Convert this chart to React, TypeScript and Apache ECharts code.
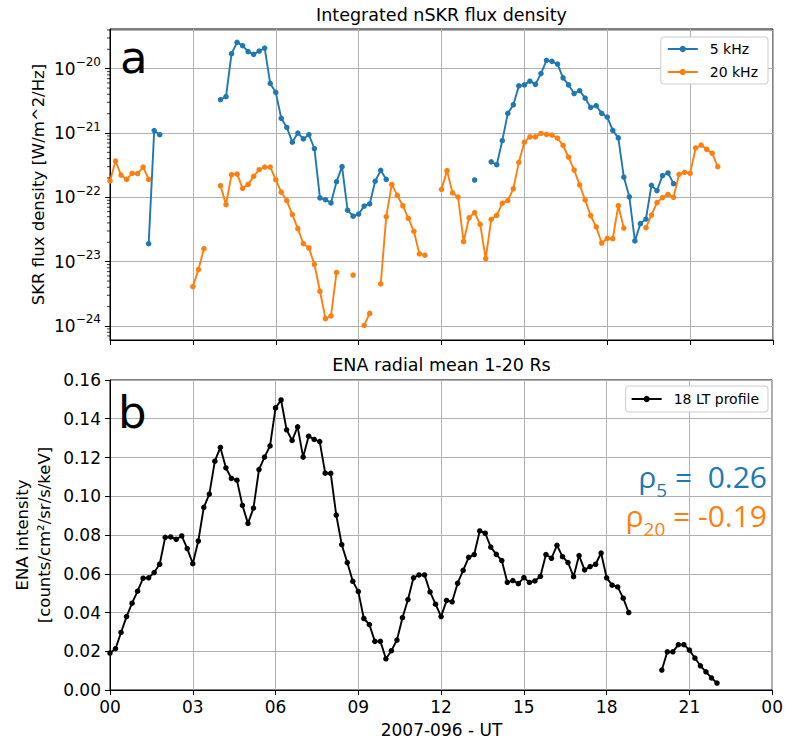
import { useEffect, useRef } from 'react';
import * as echarts from 'echarts';

// ---- data (12-minute cadence, hours UT on 2007-096) ----
const STEP_H = 0.2;
const HOUR_LABELS = ['00', '03', '06', '09', '12', '15', '18', '21', '00'];

// [segment start hour, values]
const skr5kHz: [number, number[]][] = [
  [1.4, [1.9e-23, 1.09e-21, 9.4e-22]],
  [4.0, [3.3e-21, 3.67e-21, 1.71e-20, 2.57e-20, 2.28e-20, 1.84e-20, 1.67e-20, 1.88e-20, 2.09e-20, 5.9e-21,
    4.3e-21, 1.69e-21, 1.22e-21, 7.2e-22, 1.0e-21, 8.1e-22, 9.4e-22, 5.7e-22, 9.8e-23, 9.2e-23,
    8.2e-23, 1.75e-22, 3.0e-22, 6.3e-23, 5.1e-23, 5.5e-23, 7.3e-23, 7.9e-23, 1.78e-22, 2.63e-22, 1.9e-22]],
  [13.2, [1.86e-22]],
  [13.8, [3.56e-22, 3.22e-22, 7.6e-22, 2.02e-21, 2.75e-21, 5.4e-21, 5.6e-21, 6.4e-21, 5.7e-21, 8.4e-21, 1.35e-20,
    1.3e-20, 1.18e-20, 7.2e-21, 5.6e-21, 4.1e-21, 4.55e-21, 3.5e-21, 2.5e-21, 2.66e-21, 2.02e-21, 1.77e-21,
    1.1e-21, 8.4e-22, 2.07e-22, 1.02e-22, 2.1e-23, 3.9e-23, 4.6e-23, 1.54e-22, 1.27e-22, 2.17e-22, 2.39e-22, 1.63e-22]],
];

const skr20kHz: [number, number[]][] = [
  [0.0, [1.8e-22, 3.67e-22, 2.22e-22, 1.9e-22, 2.36e-22, 2.33e-22, 2.96e-22, 1.9e-22]],
  [3.0, [4.1e-24, 7.5e-24, 1.59e-23]],
  [4.0, [1.52e-22, 7.7e-23, 2.25e-22, 2.3e-22, 1.38e-22, 1.59e-22, 2.12e-22, 2.69e-22, 2.96e-22, 2.96e-22,
    1.88e-22, 1.2e-22, 8.9e-23, 5.4e-23, 3.26e-23, 1.9e-23, 1.63e-23, 9.1e-24, 3.46e-24, 1.3e-24, 1.43e-24, 6.8e-24]],
  [8.8, [6.2e-24]],
  [9.2, [1.02e-24, 1.57e-24]],
  [9.8, [4.5e-24, 5.0e-23, 1.59e-22, 1.07e-22, 7.4e-23, 4.7e-23, 2.96e-23, 1.32e-23, 1.26e-23]],
  [12.0, [1.33e-22, 2.6e-22, 1.17e-22, 1.01e-22, 2.05e-23, 4.8e-23, 5.8e-23, 3.8e-23, 1.11e-23, 4.55e-23,
    5.25e-23, 8.1e-23, 8.9e-23, 1.36e-22, 3.5e-22, 7.2e-22, 8.7e-22, 8.7e-22, 9.9e-22, 9.5e-22,
    9.3e-22, 8.3e-22, 6.4e-22, 4.2e-22, 2.66e-22, 1.56e-22, 9.1e-23, 5.2e-23, 3.46e-23, 1.95e-23,
    2.3e-23, 2.28e-23, 7.4e-23, 3.33e-23]],
  [19.4, [3.37e-23, 5.3e-23, 8.3e-23, 9.9e-23, 1.11e-22, 1.0e-22, 2.28e-22, 2.45e-22, 2.36e-22, 5.85e-22,
    6.5e-22, 5.57e-22, 4.83e-22, 3.0e-22]],
];

const ena18LT: [number, number[]][] = [
  [0.0, [0.0191, 0.0213, 0.0297, 0.0379, 0.0448, 0.0510, 0.0577, 0.0579, 0.0606, 0.0649,
    0.0788, 0.0790, 0.0778, 0.0795, 0.0730, 0.0652, 0.0769, 0.0943, 0.1011, 0.1181,
    0.1252, 0.1147, 0.1092, 0.1083, 0.0953, 0.0860, 0.0939, 0.1138, 0.1202, 0.1260,
    0.1456, 0.1497, 0.1343, 0.1288, 0.1358, 0.1202, 0.1310, 0.1293, 0.1282, 0.1119,
    0.1118, 0.0903, 0.0750, 0.0658, 0.0561, 0.0508, 0.0369, 0.0338, 0.0251, 0.0251,
    0.0161, 0.0203, 0.0258, 0.0373, 0.0467, 0.0579, 0.0594, 0.0594, 0.0506, 0.0443,
    0.0379, 0.0462, 0.0455, 0.0551, 0.0618, 0.0685, 0.0699, 0.0821, 0.0809, 0.0738,
    0.0700, 0.0668, 0.0556, 0.0565, 0.0549, 0.0580, 0.0555, 0.0563, 0.0587, 0.0699,
    0.0680, 0.0747, 0.0688, 0.0658, 0.0585, 0.0694, 0.0620, 0.0637, 0.0649, 0.0707,
    0.0579, 0.0541, 0.0532, 0.0474, 0.0400]],
  [20.0, [0.0103, 0.0197, 0.0197, 0.0234, 0.0234, 0.0206, 0.0165, 0.0125, 0.0094, 0.0062, 0.0036]],
];

const RHO_5 = ' 0.26';
const RHO_20 = '-0.19';

// ---- styles ----
const FONT = '"DejaVu Sans", sans-serif';
const FONT_RHO = '"Open Sans", sans-serif';
const BLUE = '#1f77b4';
const ORANGE = '#ff7f0e';
const GRID_COLOR = '#b0b0b0';
const LOG_MIN = Math.pow(10, -24.218);
const LOG_MAX = Math.pow(10, -19.383);

function toPairs(segs: [number, number[]][]) {
  const out: any[] = [];
  segs.forEach(([start, vals], i) => {
    if (i > 0) out.push([start - STEP_H / 2, '-']);
    vals.forEach((v, j) => out.push([+(start + j * STEP_H).toFixed(2), v]));
  });
  return out;
}

function minorLogTicks() {
  const out: number[][] = [];
  for (let e = -25; e <= -20; e++) {
    for (let m = 2; m <= 9; m++) {
      const v = m * Math.pow(10, e);
      if (v > LOG_MIN && v < LOG_MAX) out.push([0, v]);
    }
  }
  return out;
}

const hourFormatter = (v: number) => HOUR_LABELS[Math.round(v / 3)] ?? '';

export default function App() {
  const ref = useRef<HTMLDivElement>(null);
  useEffect(() => {
    document.body.style.margin = '0';
    const chart = echarts.init(ref.current!, null, { renderer: 'svg' });

    const xCommon = {
      type: 'value' as const,
      min: 0,
      max: 24,
      interval: 3,
      axisLine: { show: true, lineStyle: { color: '#000', width: 1 } },
      axisTick: { show: true, length: 5, lineStyle: { color: '#000', width: 1 } },
      splitLine: { show: true, lineStyle: { color: GRID_COLOR, width: 1 } },
    };

    const lineSeries = (name: string, color: string, segs: [number, number[]][], axis: number) => ({
      name,
      type: 'line' as const,
      xAxisIndex: axis,
      yAxisIndex: axis,
      data: toPairs(segs),
      connectNulls: false,
      symbol: 'circle',
      symbolSize: 5.5,
      showSymbol: true,
      showAllSymbol: true,
      color,
      lineStyle: { color, width: 1.9 },
      itemStyle: { color },
      emphasis: { disabled: true },
      z: 3,
    });

    const legendCommon = {
      orient: 'vertical' as const,
      right: 18,
      itemWidth: 30,
      itemHeight: 8,
      itemGap: 7,
      borderColor: '#cccccc',
      borderWidth: 1,
      borderRadius: 3,
      backgroundColor: '#fff',
      textStyle: { fontFamily: FONT, fontSize: 14, color: '#000', lineHeight: 16, padding: [0, 0, 0, 7] },
    };

    chart.setOption({
      animation: false,
      grid: [
        { left: 110, right: 13, top: 29, height: 311, show: true, borderColor: '#000', borderWidth: 1, backgroundColor: 'transparent' },
        { left: 110, right: 13, top: 380, height: 310, show: true, borderColor: '#000', borderWidth: 1, backgroundColor: 'transparent' },
      ],
      xAxis: [
        { ...xCommon, gridIndex: 0, axisLabel: { show: false } },
        {
          ...xCommon,
          gridIndex: 1,
          axisLabel: { show: true, margin: 8, formatter: hourFormatter, fontFamily: FONT, fontSize: 17, color: '#000' },
        },
      ],
      yAxis: [
        {
          type: 'log',
          gridIndex: 0,
          logBase: 10,
          min: LOG_MIN,
          max: LOG_MAX,
          axisLine: { show: true, lineStyle: { color: '#000', width: 1 } },
          axisTick: { show: true, length: 5, lineStyle: { color: '#000', width: 1 } },
          splitLine: { show: true, lineStyle: { color: GRID_COLOR, width: 1 } },
          axisLabel: {
            margin: 9,
            showMinLabel: false,
            showMaxLabel: false,
            formatter: (v: number) => {
              const lg = Math.log10(v);
              const e = Math.round(lg);
              if (Math.abs(lg - e) > 1e-3) return '';
              return `{b|10}{s|\u2212${Math.abs(e)}}`;
            },
            rich: {
              b: { fontFamily: FONT, fontSize: 17, color: '#000' },
              s: { fontFamily: FONT, fontSize: 12, color: '#000', padding: [0, 0, 13, 0] },
            },
          },
        },
        {
          type: 'value',
          gridIndex: 1,
          min: 0,
          max: 0.16,
          interval: 0.02,
          axisLine: { show: true, lineStyle: { color: '#000', width: 1 } },
          axisTick: { show: true, length: 5, lineStyle: { color: '#000', width: 1 } },
          splitLine: { show: true, lineStyle: { color: GRID_COLOR, width: 1 } },
          axisLabel: {
            margin: 9,
            formatter: (v: number) => v.toFixed(2),
            fontFamily: FONT,
            fontSize: 17,
            color: '#000',
          },
        },
      ],
      legend: [
        { ...legendCommon, top: 37, padding: [4, 10, 4, 6], data: ['5 kHz', '20 kHz'] },
        { ...legendCommon, top: 386, padding: [5, 9, 5, 5], data: ['18 LT profile'] },
      ],
      series: [
        lineSeries('5 kHz', BLUE, skr5kHz, 0),
        lineSeries('20 kHz', ORANGE, skr20kHz, 0),
        lineSeries('18 LT profile', '#000', ena18LT, 1),
        {
          type: 'custom',
          xAxisIndex: 0,
          yAxisIndex: 0,
          silent: true,
          clip: false,
          data: minorLogTicks(),
          renderItem: (_p: any, api: any) => {
            const pt = api.coord([0, api.value(1)]);
            return {
              type: 'line',
              shape: { x1: pt[0] - 3, y1: pt[1], x2: pt[0], y2: pt[1] },
              style: { stroke: '#000', lineWidth: 0.8 },
            };
          },
          z: 5,
        },
      ],
      graphic: [
        {
          type: 'text', x: 441.5, y: 15,
          style: { text: 'Integrated nSKR flux density', font: `17.5px ${FONT}`, fill: '#000', align: 'center', verticalAlign: 'middle', textAlign: 'center', textVerticalAlign: 'middle' },
        },
        {
          type: 'text', x: 441.5, y: 365,
          style: { text: 'ENA radial mean 1-20 Rs', font: `17.5px ${FONT}`, fill: '#000', align: 'center', verticalAlign: 'middle', textAlign: 'center', textVerticalAlign: 'middle' },
        },
        {
          type: 'text', x: 38, y: 184.5, rotation: Math.PI / 2,
          style: { text: 'SKR flux density [W/m^2/Hz]', font: `16.5px ${FONT}`, fill: '#000', align: 'center', verticalAlign: 'middle', textAlign: 'center', textVerticalAlign: 'middle' },
        },
        {
          type: 'text', x: 33, y: 535, rotation: Math.PI / 2,
          style: { text: 'ENA intensity\n[counts/cm\u00b2/sr/s/keV]', font: `16.5px ${FONT}`, lineHeight: 22, fill: '#000', align: 'center', verticalAlign: 'middle', textAlign: 'center', textVerticalAlign: 'middle' },
        },
        {
          type: 'text', x: 441.5, y: 730,
          style: { text: '2007-096 - UT', font: `17px ${FONT}`, fill: '#000', align: 'center', verticalAlign: 'middle', textAlign: 'center', textVerticalAlign: 'middle' },
        },
        {
          type: 'text', x: 120, y: 57, z: 10,
          style: { text: 'a', font: `45px ${FONT}`, fill: '#000', align: 'left', verticalAlign: 'middle', textAlign: 'left', textVerticalAlign: 'middle' },
        },
        {
          type: 'text', x: 118, y: 412, z: 10,
          style: { text: 'b', font: `45px ${FONT}`, fill: '#000', align: 'left', verticalAlign: 'middle', textAlign: 'left', textVerticalAlign: 'middle' },
        },
        {
          type: 'text', x: 767, y: 476, z: 10,
          style: {
            text: `{m|\u03c1}{s|5}{m| =  ${RHO_5.trim()}}`,
            align: 'right', verticalAlign: 'middle', textAlign: 'right', textVerticalAlign: 'middle',
            rich: {
              m: { fontFamily: FONT_RHO, fontSize: 30, fill: BLUE, color: BLUE },
              s: { fontFamily: FONT_RHO, fontSize: 19, fill: BLUE, color: BLUE, padding: [28, 0, 0, 0] },
            },
          },
        },
        {
          type: 'text', x: 767, y: 515, z: 10,
          style: {
            text: `{m|\u03c1}{s|20}{m| = ${RHO_20}}`,
            align: 'right', verticalAlign: 'middle', textAlign: 'right', textVerticalAlign: 'middle',
            rich: {
              m: { fontFamily: FONT_RHO, fontSize: 30, fill: ORANGE, color: ORANGE },
              s: { fontFamily: FONT_RHO, fontSize: 19, fill: ORANGE, color: ORANGE, padding: [28, 0, 0, 0] },
            },
          },
        },
      ],
    });
    return () => chart.dispose();
  }, []);
  return <div ref={ref} style={{ width: 786, height: 742 }} />;
}
